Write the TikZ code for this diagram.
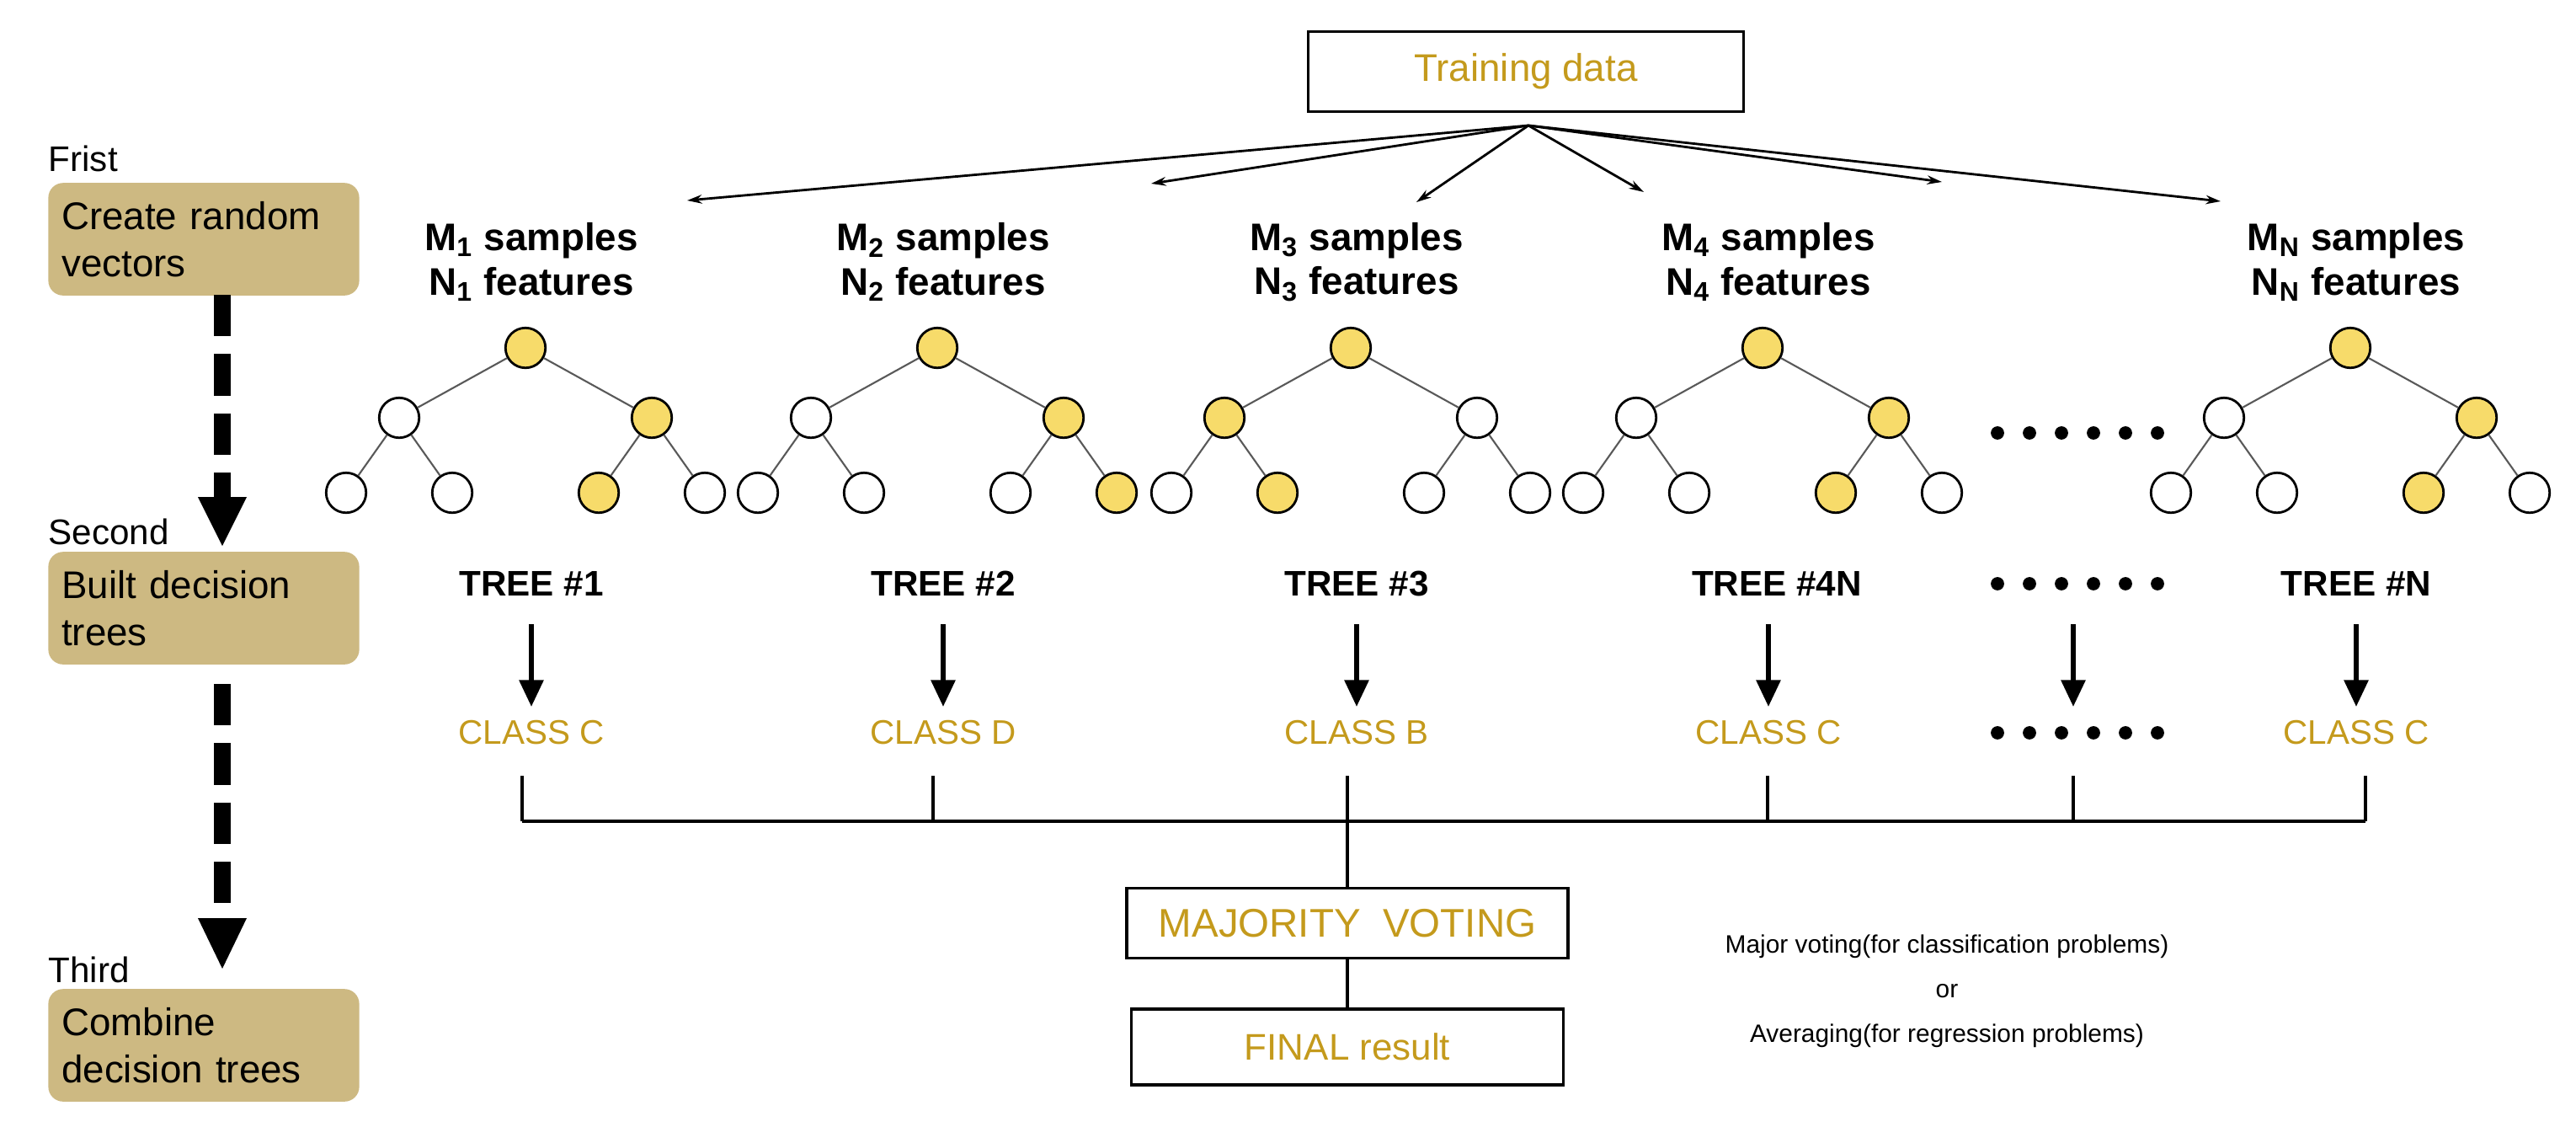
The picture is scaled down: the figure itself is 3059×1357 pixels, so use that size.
\documentclass[tikz,border=0pt]{standalone}
\usepackage{fontspec}
\setmainfont{Liberation Sans}
\usetikzlibrary{arrows.meta}
\definecolor{gold}{HTML}{C49A1C}
\definecolor{nodey}{HTML}{F7DB6A}
\definecolor{tan}{HTML}{CDB982}
\begin{document}
\begin{tikzpicture}[x=0.01cm,y=-0.01cm,
  nd/.style={circle,draw=black,line width=0.8pt,inner sep=0pt,minimum size=13.5pt},
  ww/.style={fill=white}, yy/.style={fill=nodey},
  edgel/.style={draw=black!65,line width=0.6pt},
  lab/.style={font=\bfseries\fontsize{13}{15}\selectfont,align=center},
  treel/.style={font=\bfseries\fontsize{12}{14}\selectfont},
  cls/.style={text=gold,font=\fontsize{11.5}{14}\selectfont},
  stepbox/.style={fill=tan,rounded corners=5pt,minimum width=105pt,minimum height=38pt,text width=96pt,align=left,font=\fontsize{13}{16}\selectfont,inner sep=0pt},
  fan/.style={-{Stealth[length=5pt,width=3pt]},line width=0.8pt},
  vdown/.style={-{Triangle[length=9pt,width=8pt]},line width=1.6pt},
  dot/.style={circle,fill=black,inner sep=0pt,minimum size=4.5pt}]
\useasboundingbox (0,0) rectangle (3059,1357);
% training data
\node[draw,line width=1.1pt,minimum width=147pt,minimum height=27pt,text=gold,font=\fontsize{13}{15}\selectfont] (td) at (1812,85) {Training data};
\coordinate (fo) at (1815,149);
\foreach \n/\x/\y in {a/816/238,b/1367/218,c/1682/240,d/1952/228,e/2306/216,f/2637/239}{
  \coordinate (tip\n) at (\x,\y);
  \draw[fan] (fo) -- (tip\n);
}
% labels
\node[lab] (l1) at (631,311) {M\textsubscript{1} samples\\N\textsubscript{1} features};
\node[lab] (l2) at (1120,311) {M\textsubscript{2} samples\\N\textsubscript{2} features};
\node[lab] (l3) at (1611,311) {M\textsubscript{3} samples\\N\textsubscript{3} features};
\node[lab] (l4) at (2100,311) {M\textsubscript{4} samples\\N\textsubscript{4} features};
\node[lab] (l5) at (2798,311) {M\textsubscript{N} samples\\N\textsubscript{N} features};
% trees
\foreach \i/\x/\a/\b/\c/\d/\e/\f in {1/624/ww/yy/ww/ww/yy/ww,2/1113/ww/yy/ww/ww/ww/yy,3/1604/yy/ww/ww/yy/ww/ww,4/2093/ww/yy/ww/ww/yy/ww,5/2791/ww/yy/ww/ww/yy/ww}{
  \node[nd,yy] (r\i) at (\x,413) {};
  \node[nd,\a] (ml\i) at (\x-150,496) {};
  \node[nd,\b] (mr\i) at (\x+150,496) {};
  \node[nd,\c] (la\i) at (\x-213,585) {};
  \node[nd,\d] (lb\i) at (\x-87,585) {};
  \node[nd,\e] (lc\i) at (\x+87,585) {};
  \node[nd,\f] (ld\i) at (\x+213,585) {};
  \draw[edgel] (r\i) -- (ml\i) (r\i) -- (mr\i) (ml\i) -- (la\i) (ml\i) -- (lb\i) (mr\i) -- (lc\i) (mr\i) -- (ld\i);
}
% dots rows
\foreach \yv/\nm in {514/a,693/b,870/c}{
  \foreach \k in {0,...,5}{\node[dot] (d\nm\k) at (2372+\k*38,\yv) {};}
}
% tree labels
\node[treel] (T1) at (631,693) {TREE \#1};
\node[treel] (T2) at (1120,693) {TREE \#2};
\node[treel] (T3) at (1611,693) {TREE \#3};
\node[treel] (T4) at (2110,693) {TREE \#4N};
\node[treel] (T5) at (2798,693) {TREE \#N};
\foreach \n/\x in {1/631,2/1120,3/1611,4/2100,6/2462,5/2798}{
  \coordinate (as\n) at (\x,741); \coordinate (ae\n) at (\x,839);
  \draw[vdown] (as\n) -- (ae\n);
}
\node[cls] (C1) at (631,870) {CLASS C};
\node[cls] (C2) at (1120,870) {CLASS D};
\node[cls] (C3) at (1611,870) {CLASS B};
\node[cls] (C4) at (2100,870) {CLASS C};
\node[cls] (C5) at (2798,870) {CLASS C};
% bracket
\coordinate (bl) at (620,975); \coordinate (br) at (2809,975);
\draw[line width=1pt] (bl) -- (br);
\foreach \n/\x in {1/620,2/1108,3/1600,4/2099,6/2462,5/2809}{
  \coordinate (tt\n) at (\x,921); \coordinate (tb\n) at (\x,975);
  \draw[line width=1pt] (tt\n) -- (tb\n);
}
\node[draw,line width=1pt,minimum width=149pt,minimum height=23.5pt,inner sep=0pt,text=gold,font=\fontsize{13.5}{15}\selectfont] (mv) at (1600,1096) {MAJORITY\ \ VOTING};
\node[draw,line width=1pt,minimum width=146pt,minimum height=25.5pt,inner sep=0pt,text=gold,font=\fontsize{12.5}{15}\selectfont] (fr) at (1600,1243) {FINAL result};
\draw[line width=1pt] (tb3) -- (mv.north);
\draw[line width=1pt] (mv.south) -- (fr.north);
\node[font=\fontsize{8.5}{15}\selectfont,align=center] (note) at (2312,1177) {Major voting(for classification problems)\\or\\Averaging(for regression problems)};
% left steps
\node[anchor=south west,font=\fontsize{12}{14}\selectfont,inner sep=0pt] (s1t) at (57,205) {Frist};
\node[stepbox] (s1) at (242,284) {Create random\\vectors};
\node[anchor=south west,font=\fontsize{12}{14}\selectfont,inner sep=0pt] (s2t) at (57,648) {Second};
\node[stepbox] (s2) at (242,722) {Built decision\\trees};
\node[anchor=south west,font=\fontsize{12}{14}\selectfont,inner sep=0pt] (s3t) at (57,1168) {Third};
\node[stepbox] (s3) at (242,1241) {Combine\\decision trees};
\coordinate (k1a) at (264,350); \coordinate (k1b) at (264,590);
\coordinate (k2a) at (264,812); \coordinate (k2b) at (264,1090);
\draw[line width=5.7pt,dash pattern=on 14pt off 6pt] (k1a) -- (k1b);
\fill (235,590) -- (293,590) -- (264,648) -- cycle;
\draw[line width=5.7pt,dash pattern=on 14pt off 6pt] (k2a) -- (k2b);
\fill (235,1090) -- (293,1090) -- (264,1150) -- cycle;
\end{tikzpicture}
\end{document}
